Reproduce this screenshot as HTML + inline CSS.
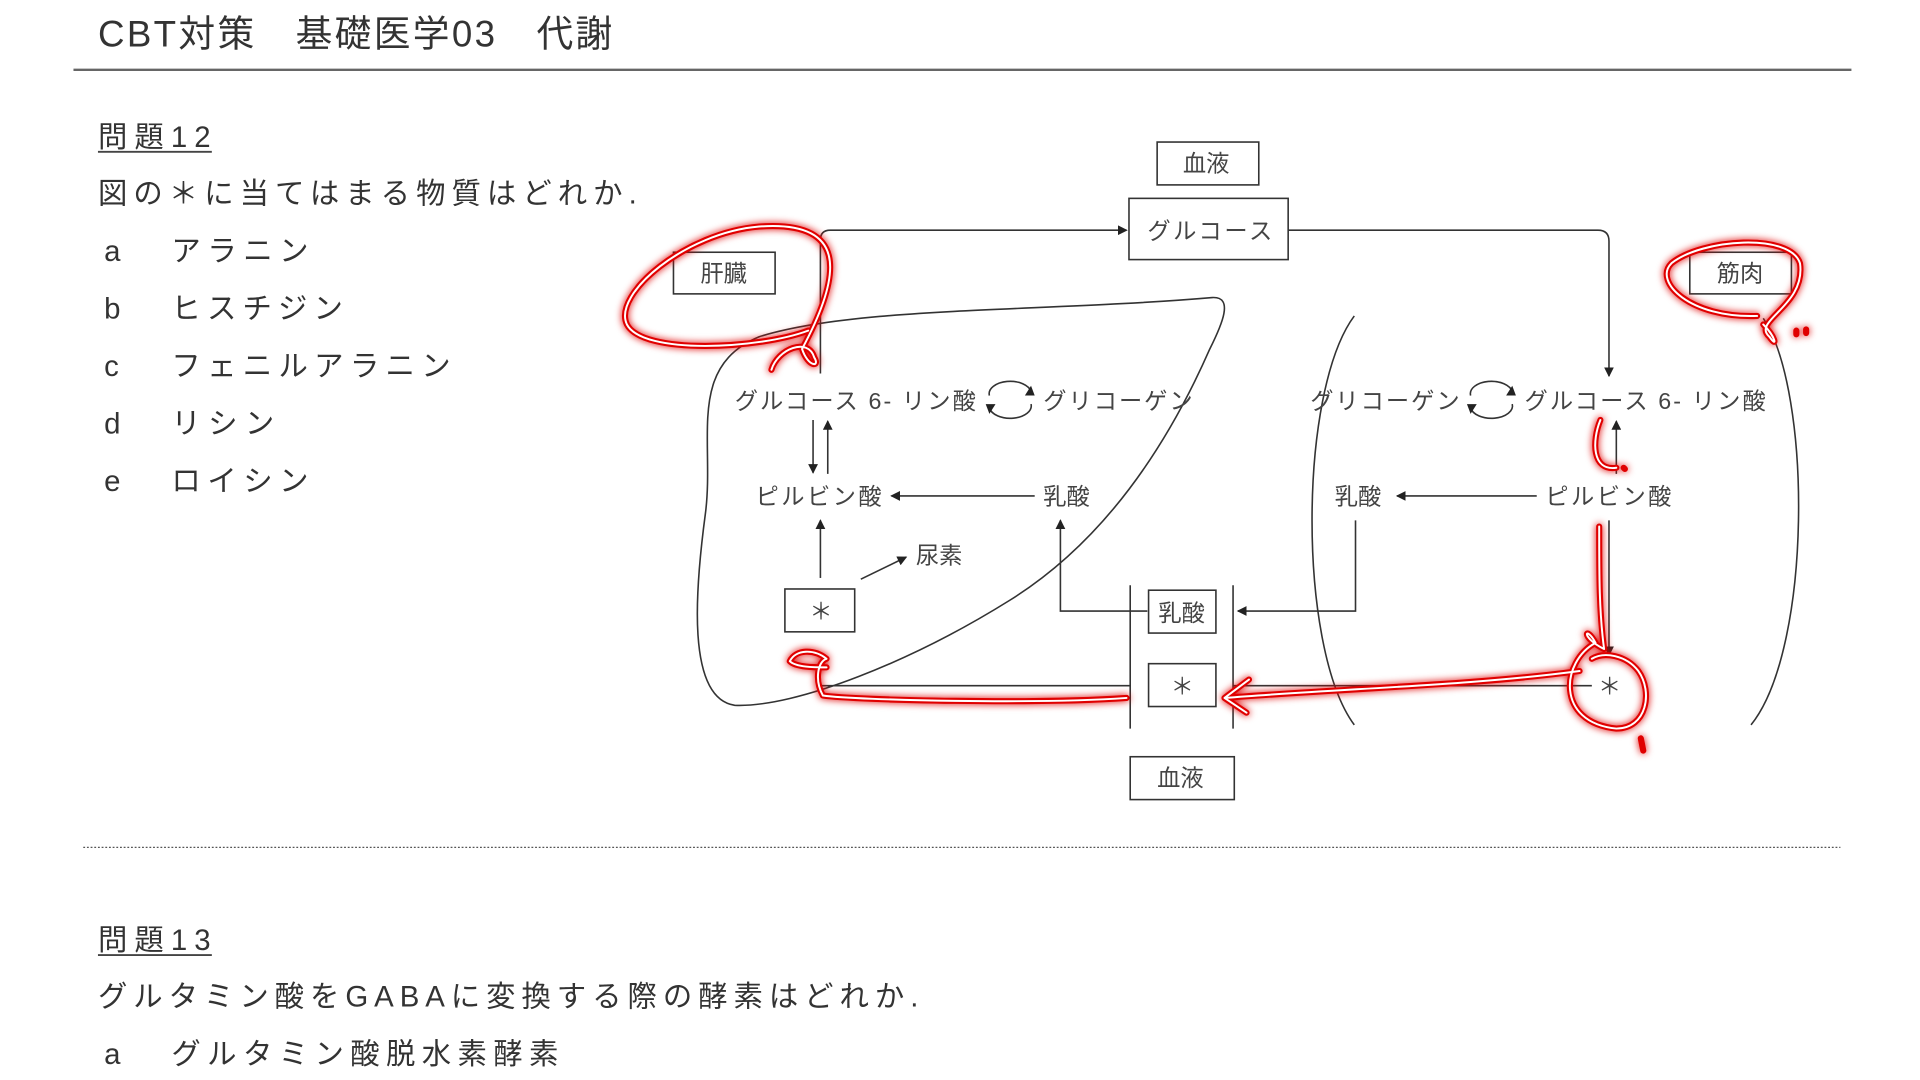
<!DOCTYPE html>
<html><head><meta charset="utf-8"><style>
html,body{margin:0;padding:0;background:#fff;width:1920px;height:1080px;overflow:hidden}
svg{display:block}
text{font-family:"Liberation Sans","Noto Sans CJK JP",sans-serif;fill:#333}
.d text{font-size:19px;fill:#444}
.b{fill:#fff;stroke:#333;stroke-width:1.3}
.l{fill:none;stroke:#333;stroke-width:1.3}
.r{fill:none;stroke:#e00000;stroke-width:5;stroke-linecap:round;stroke-linejoin:round}
.w{fill:none;stroke:#fff;stroke-width:1.6;stroke-linecap:round;stroke-linejoin:round}
</style></head><body>
<svg width="1920" height="1080" viewBox="0 0 1568 882" preserveAspectRatio="none" xmlns="http://www.w3.org/2000/svg">
<defs>
<marker id="a" markerWidth="8" markerHeight="8" refX="7" refY="4" orient="auto" markerUnits="userSpaceOnUse"><path d="M0,0 L8,4 L0,8 z" fill="#222"/></marker>
<filter id="g" x="-20%" y="-20%" width="140%" height="140%"><feGaussianBlur stdDeviation="3" result="b"/><feMerge><feMergeNode in="b"/><feMergeNode in="SourceGraphic"/></feMerge></filter>
</defs>
<text x="80" y="38" font-size="30" textLength="420" lengthAdjust="spacing">CBT対策　基礎医学03　代謝</text>
<line x1="60" y1="57" x2="1512" y2="57" stroke="#666" stroke-width="2"/>
<text x="80" y="120" font-size="24" textLength="92" lengthAdjust="spacing">問題12</text>
<line x1="80" y1="124" x2="173" y2="124" stroke="#444" stroke-width="1.5"/>
<text x="80" y="166" font-size="24" textLength="440" lengthAdjust="spacing">図の＊に当てはまる物質はどれか.</text>
<g font-size="24">
<text x="85" y="213">a</text><text x="140" y="213" textLength="112" lengthAdjust="spacing">アラニン</text>
<text x="85" y="260">b</text><text x="140" y="260" textLength="140" lengthAdjust="spacing">ヒスチジン</text>
<text x="85" y="307">c</text><text x="140" y="307" textLength="228" lengthAdjust="spacing">フェニルアラニン</text>
<text x="85" y="354">d</text><text x="140" y="354" textLength="84" lengthAdjust="spacing">リシン</text>
<text x="85" y="401">e</text><text x="140" y="401" textLength="112" lengthAdjust="spacing">ロイシン</text>
</g>
<line x1="68" y1="692" x2="1503" y2="692" stroke="#555" stroke-width="1" stroke-dasharray="1.5,1.5"/>
<text x="80" y="776" font-size="24" textLength="92" lengthAdjust="spacing">問題13</text>
<line x1="80" y1="780" x2="173" y2="780" stroke="#444" stroke-width="1.5"/>
<text x="80" y="822" font-size="24" textLength="670" lengthAdjust="spacing">グルタミン酸をGABAに変換する際の酵素はどれか.</text>
<text x="85" y="869" font-size="24">a</text><text x="140" y="869" font-size="24" textLength="316" lengthAdjust="spacing">グルタミン酸脱水素酵素</text>

<g class="d">
<path class="l" d="M600,576 C560,570 568,480 576,420 C584,360 560,300 620,275 C700,250 850,255 990,243 C1008,242 998,265 988,285 C955,360 905,440 825,490 C745,540 650,578 600,576 Z"/>
<path class="l" d="M1106,258 C1060,320 1060,530 1106,592"/>
<path class="l" d="M1440,260 C1480,320 1480,530 1430,592"/>
<rect class="b" x="945" y="116" width="83" height="35"/><text x="966" y="140">血液</text>
<rect class="b" x="922" y="162" width="130" height="50"/><text x="937" y="195" textLength="102" lengthAdjust="spacing">グルコース</text>
<rect class="b" x="550" y="206" width="83" height="34"/><text x="572" y="230">肝臓</text>
<rect class="b" x="1380" y="206" width="83" height="34"/><text x="1402" y="230">筋肉</text>
<path class="l" d="M670,305 V196 Q670,188 678,188 H920" marker-end="url(#a)"/>
<path class="l" d="M1052,188 H1305 Q1314,188 1314,197 V307" marker-end="url(#a)"/>
<text x="600" y="334" textLength="197" lengthAdjust="spacing">グルコース 6- リン酸</text>
<text x="852" y="334" textLength="122" lengthAdjust="spacing">グリコーゲン</text>
<text x="1070" y="334" textLength="122" lengthAdjust="spacing">グリコーゲン</text>
<text x="1245" y="334" textLength="197" lengthAdjust="spacing">グルコース 6- リン酸</text>
<path class="l" d="M808,323 A17,10 0 0 1 842,320"/><path d="M842,315 l3,8 -8,0z" fill="#222"/>
<path class="l" d="M842,330 A17,10 0 0 1 808,333"/><path d="M808,338 l-3,-8 8,0z" fill="#222"/>
<path class="l" d="M1201,323 A17,10 0 0 1 1235,320"/><path d="M1235,315 l3,8 -8,0z" fill="#222"/>
<path class="l" d="M1235,330 A17,10 0 0 1 1201,333"/><path d="M1201,338 l-3,-8 8,0z" fill="#222"/>
<line class="l" x1="664" y1="343" x2="664" y2="386" marker-end="url(#a)"/>
<line class="l" x1="676" y1="387" x2="676" y2="344" marker-end="url(#a)"/>
<line class="l" x1="1320" y1="387" x2="1320" y2="344" marker-end="url(#a)"/>
<text x="617" y="412" textLength="103" lengthAdjust="spacing">ピルビン酸</text>
<line class="l" x1="845" y1="405" x2="728" y2="405" marker-end="url(#a)"/>
<text x="852" y="412">乳酸</text>
<text x="1090" y="412">乳酸</text>
<line class="l" x1="1255" y1="405" x2="1141" y2="405" marker-end="url(#a)"/>
<text x="1262" y="412" textLength="103" lengthAdjust="spacing">ピルビン酸</text>
<line class="l" x1="670" y1="472" x2="670" y2="425" marker-end="url(#a)"/>
<line class="l" x1="703" y1="473" x2="740" y2="455" marker-end="url(#a)"/>
<text x="748" y="460">尿素</text>
<rect class="b" x="641" y="481" width="57" height="35"/><text x="661" y="506">＊</text>
<path class="l" d="M937,499 H866 V425" marker-end="url(#a)"/>
<path class="l" d="M1107,425 V499 H1011" marker-end="url(#a)"/>
<line class="l" x1="923" y1="478" x2="923" y2="595"/>
<line class="l" x1="1007" y1="478" x2="1007" y2="595"/>
<rect class="b" x="938" y="482" width="55" height="35"/><text x="946" y="507">乳酸</text>
<rect class="b" x="938" y="542" width="55" height="35"/><text x="956" y="567">＊</text>
<line class="l" x1="670" y1="560" x2="923" y2="560"/>
<line class="l" x1="1007" y1="560" x2="1300" y2="560"/>
<line class="l" x1="1314" y1="425" x2="1314" y2="535" marker-end="url(#a)"/>
<text x="1305" y="567">＊</text>
<rect class="b" x="923" y="618" width="85" height="35"/><text x="945" y="642">血液</text>
</g>

<g filter="url(#g)">
<path class="r" d="M630,302 C635,285 660,275 665,292 C670,300 660,300 655,285 C690,220 690,180 620,185 C560,190 500,240 512,265 C525,290 620,285 660,270"/>
<path class="r" d="M1440,265 C1450,275 1452,285 1445,275 C1430,262 1475,250 1470,215 C1462,190 1390,195 1365,215 C1350,230 1380,260 1435,258"/>
<path class="r" d="M1467,270 l0,3 M1475,269 l0,3"/>
<path class="r" d="M1307,343 C1300,360 1300,385 1320,382 M1326,382 l1,1"/>
<path class="r" d="M1306,430 C1306,470 1306,500 1310,530 C1290,520 1295,510 1303,525 C1275,540 1270,590 1320,595 C1345,595 1350,565 1338,548 C1328,535 1310,532 1300,538 M1340,603 l2,10"/>
<path class="r" d="M1290,548 C1200,560 1100,562 1000,570 L1020,555 M1000,570 L1018,582"/>
<path class="r" d="M920,570 C850,575 700,572 672,568 C665,555 668,540 675,538 C665,530 650,530 645,540 C650,545 665,545 675,545"/>
</g>
<g>
<path class="w" d="M630,302 C635,285 660,275 665,292 C670,300 660,300 655,285 C690,220 690,180 620,185 C560,190 500,240 512,265 C525,290 620,285 660,270"/>
<path class="w" d="M1440,265 C1450,275 1452,285 1445,275 C1430,262 1475,250 1470,215 C1462,190 1390,195 1365,215 C1350,230 1380,260 1435,258"/>
<path class="w" d="M1307,343 C1300,360 1300,385 1320,382"/>
<path class="w" d="M1306,430 C1306,470 1306,500 1310,530 C1290,520 1295,510 1303,525 C1275,540 1270,590 1320,595 C1345,595 1350,565 1338,548 C1328,535 1310,532 1300,538"/>
<path class="w" d="M1290,548 C1200,560 1100,562 1000,570 L1020,555 M1000,570 L1018,582"/>
<path class="w" d="M920,570 C850,575 700,572 672,568 C665,555 668,540 675,538 C665,530 650,530 645,540 C650,545 665,545 675,545"/>
</g>
</svg>
</body></html>
